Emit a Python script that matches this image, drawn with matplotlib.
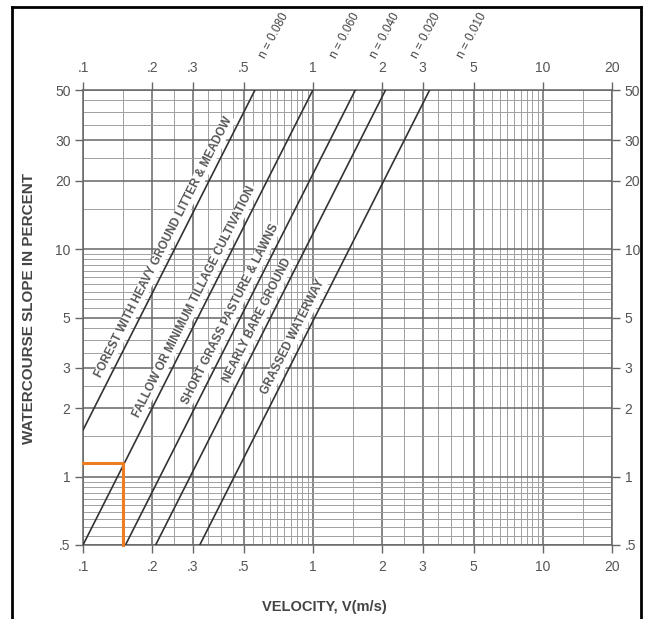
import numpy as np
import matplotlib.pyplot as plt
import matplotlib.ticker as mticker
import matplotlib.transforms as mtransforms
from matplotlib.lines import Line2D

plt.rcParams['font.family'] = ['Liberation Sans', 'DejaVu Sans']

# axis ticks
velocity_ticks = [0.1, 0.2, 0.3, 0.5, 1, 2, 3, 5, 10, 20]
velocity_labels = ['.1', '.2', '.3', '.5', '1', '2', '3', '5', '10', '20']
slope_ticks = [0.5, 1, 2, 3, 5, 10, 20, 30, 50]
slope_labels = ['.5', '1', '2', '3', '5', '10', '20', '30', '50']

# light grid lines of the printed chart paper
velocity_minor = [0.15, 0.25, 0.35, 0.4, 0.45,
                  0.55, 0.6, 0.65, 0.7, 0.75, 0.8, 0.85, 0.9, 0.95,
                  1.5, 2.5, 3.5, 4, 4.5,
                  5.5, 6, 6.5, 7, 7.5, 8, 8.5, 9, 9.5, 15]
slope_minor = [0.55, 0.6, 0.65, 0.7, 0.75, 0.8, 0.85, 0.9, 0.95,
               1.5, 2.5, 3.5, 4, 4.5,
               5.5, 6, 6.5, 7, 7.5, 8, 8.5, 9, 9.5,
               15, 25, 35, 40, 45]

# land cover lines (end points)
cover_names = ['FOREST WITH HEAVY GROUND LITTER & MEADOW',
               'FALLOW OR MINIMUM TILLAGE CULTIVATION',
               'SHORT GRASS PASTURE & LAWNS',
               'NEARLY BARE GROUND',
               'GRASSED WATERWAY']
cover_v = [[0.1, 0.56], [0.1, 1.0], [0.153, 1.53], [0.207, 2.07], [0.322, 3.22]]
cover_s = [[1.6, 50], [0.5, 50], [0.5, 50], [0.5, 50], [0.5, 50]]

n_names = ['n = 0.080', 'n = 0.060', 'n = 0.040', 'n = 0.020', 'n = 0.010']

# worked example marked in orange
example_v = 0.15
example_s = 1.15

# where the labels sit (velocity along each line)
cover_label_v = [0.247, 0.335, 0.48, 0.63, 0.9]
n_label_v = [0.68, 1.38, 2.05, 3.1, 4.9]

fig = plt.figure(figsize=(6.47, 6.19), dpi=100)
ax = fig.add_axes([83/647, 74/619, 529/647, 455/619])
ax.set_xscale('log')
ax.set_yscale('log')
ax.set_xlim(0.1, 20)
ax.set_ylim(0.5, 50)

ax.set_xticks(velocity_ticks)
ax.set_xticklabels(velocity_labels)
ax.set_yticks(slope_ticks)
ax.set_yticklabels(slope_labels)
ax.set_xticks(velocity_minor, minor=True)
ax.set_yticks(slope_minor, minor=True)
ax.xaxis.set_minor_formatter(mticker.NullFormatter())
ax.yaxis.set_minor_formatter(mticker.NullFormatter())
ax.tick_params(which='major', direction='out', length=6, width=1,
               color='#666666', labelcolor='#555555', labelsize=10,
               top=True, right=True, labeltop=True, labelright=True, pad=3)
ax.tick_params(axis='x', which='major', pad=5)
ax.tick_params(which='minor', length=0, top=True, right=True)
ax.grid(which='major', color='#666666', lw=1.1)
ax.grid(which='minor', color='#a0a0a0', lw=0.7)
ax.set_axisbelow(True)
for sp in ax.spines.values():
    sp.set_color('#666666')
    sp.set_linewidth(1.1)

ax.set_xlabel('VELOCITY, V(m/s)', fontsize=10.5, fontweight='bold',
              color='#444444')
ax.xaxis.set_label_coords(0.457, -0.12)
ax.set_ylabel('WATERCOURSE SLOPE IN PERCENT', fontsize=11, fontweight='bold',
              color='#444444')
ax.yaxis.set_label_coords(-0.088, 0.52)

for i, name in enumerate(cover_names):
    v, s = cover_v[i], cover_s[i]
    ax.plot(v, s, color='#333333', lw=1.2, zorder=3)
    # point on the line and its angle on screen
    lv = cover_label_v[i]
    ls = 10 ** np.interp(np.log10(lv), np.log10(v), np.log10(s))
    p0 = ax.transData.transform((v[0], s[0]))
    p1 = ax.transData.transform((v[1], s[1]))
    ang = np.degrees(np.arctan2(p1[1] - p0[1], p1[0] - p0[0]))
    d = 3.0
    off = mtransforms.offset_copy(ax.transData, fig=fig,
                                  x=-d * np.sin(np.radians(ang)),
                                  y=d * np.cos(np.radians(ang)), units='points')
    ax.text(lv, ls, name, transform=off, rotation=ang, rotation_mode='anchor',
            ha='center', va='bottom', fontsize=8.4, fontweight='bold',
            color='#555555', zorder=4,
            bbox=dict(fc='white', ec='none', pad=0.6))

top = mtransforms.blended_transform_factory(ax.transData, fig.transFigure)
for name, x in zip(n_names, n_label_v):
    ax.text(x, 1 - 36/619, name, transform=top, rotation=62,
            ha='center', va='center', fontsize=8.5, color='#444444')

ax.plot([0.1, example_v, example_v], [example_s, example_s, 0.5],
        color='#ee7d22', lw=2.2, zorder=5, clip_on=False)

# black frame of the scanned page
for xs, ys in [([12, 12], [0, 612]), ([12, 641], [612, 612]), ([641, 641], [612, 0])]:
    fig.add_artist(Line2D([x / 647 for x in xs], [y / 619 for y in ys],
                          color='black', lw=2))

fig.savefig('out.png', dpi=100)
